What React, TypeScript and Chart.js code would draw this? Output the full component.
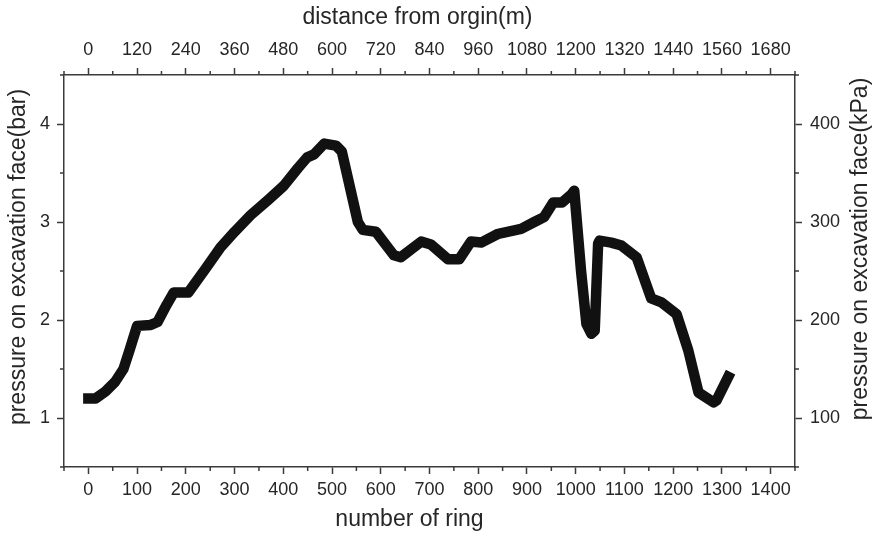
import React, { useEffect, useRef } from "react";
import { Chart, registerables } from "chart.js";

Chart.register(...registerables);

// ---- data ----
const rings = [
  0, 15, 35, 55, 72, 85, 100, 128, 142, 160, 175, 205, 240, 271, 300, 333, 370, 401, 430, 449,
  463, 484, 508, 520, 553, 563, 590, 627, 641, 683, 703, 738, 761, 785, 806, 841, 888, 915, 935, 954,
  972, 991, 997, 1011, 1022, 1032, 1039, 1046, 1049, 1073, 1094, 1125, 1155, 1176, 1207, 1231, 1252, 1283, 1289, 1313,
];
const pressureBar = [
  1.2, 1.2, 1.27, 1.37, 1.5, 1.7, 1.94, 1.95, 1.98, 2.15, 2.28, 2.28, 2.52, 2.74, 2.9, 3.07, 3.23, 3.37, 3.55, 3.66,
  3.69, 3.8, 3.78, 3.72, 3.0, 2.92, 2.9, 2.66, 2.64, 2.8, 2.77, 2.62, 2.62, 2.8, 2.79, 2.88, 2.93, 3.0, 3.05, 3.2,
  3.2, 3.28, 3.32, 2.5, 1.96, 1.86, 1.89, 2.78, 2.81, 2.79, 2.76, 2.64, 2.22, 2.18, 2.06, 1.69, 1.26, 1.16, 1.18, 1.42,
];

const ringRange = [-50, 1450];
const distanceRange = [-60, 1740];
const barRange = [0.5, 4.5];
const kpaRange = [50, 450];

const ringTicks = [0, 100, 200, 300, 400, 500, 600, 700, 800, 900, 1000, 1100, 1200, 1300, 1400];
const distanceTicks = [0, 120, 240, 360, 480, 600, 720, 840, 960, 1080, 1200, 1320, 1440, 1560, 1680];
const barTicks = [1, 2, 3, 4];
const kpaTicks = [100, 200, 300, 400];

const ringMinor = [-50, 50, 150, 250, 350, 450, 550, 650, 750, 850, 950, 1050, 1150, 1250, 1350, 1450];
const distanceMinor = [-60, 60, 180, 300, 420, 540, 660, 780, 900, 1020, 1140, 1260, 1380, 1500, 1620, 1740];
const barMinor = [0.5, 1.5, 2.5, 3.5, 4.5];
const kpaMinor = [50, 150, 250, 350, 450];

const titleBottom = "number of ring";
const titleTop = "distance from orgin(m)";
const titleLeft = "pressure on excavation face(bar)";
const titleRight = "pressure on excavation face(kPa)";

const AXIS = "#3a3a3a";
const TEXT = "#262626";
const FONT_FAMILY = "'Liberation Sans', Arial, sans-serif";

const minorAndTitles = {
  id: "minorAndTitles",
  afterDraw(chart: any) {
    const ctx = chart.ctx as CanvasRenderingContext2D;
    ctx.save();
    ctx.strokeStyle = AXIS;
    ctx.lineWidth = 1.5;
    const defs: [string, number[]][] = [
      ["x", ringMinor],
      ["x2", distanceMinor],
      ["y", barMinor],
      ["y2", kpaMinor],
    ];
    const len = 4;
    for (const [id, vals] of defs) {
      const s = chart.scales[id];
      if (!s) continue;
      ctx.beginPath();
      for (const v of vals) {
        const p = s.getPixelForValue(v);
        if (s.position === "bottom") {
          ctx.moveTo(p, s.top);
          ctx.lineTo(p, s.top + len);
        } else if (s.position === "top") {
          ctx.moveTo(p, s.bottom);
          ctx.lineTo(p, s.bottom - len);
        } else if (s.position === "left") {
          ctx.moveTo(s.right, p);
          ctx.lineTo(s.right - len, p);
        } else {
          ctx.moveTo(s.left, p);
          ctx.lineTo(s.left + len, p);
        }
      }
      ctx.stroke();
    }

    // axis titles
    const ca = chart.chartArea;
    ctx.fillStyle = TEXT;
    ctx.font = `23px ${FONT_FAMILY}`;
    ctx.textAlign = "center";
    ctx.textBaseline = "alphabetic";
    const midX = (ca.left + ca.right) / 2;
    const midY = (ca.top + ca.bottom) / 2;
    ctx.fillText(titleTop, midX - 12, 24);
    ctx.fillText(titleBottom, midX - 20, 526);

    ctx.save();
    ctx.translate(25, midY - 14);
    ctx.rotate(-Math.PI / 2);
    ctx.fillText(titleLeft, 0, 0);
    ctx.restore();

    ctx.save();
    ctx.translate(867, midY - 22);
    ctx.rotate(-Math.PI / 2);
    ctx.fillText(titleRight, 0, 0);
    ctx.restore();

    ctx.restore();
  },
};

const setTicks = (values: number[]) => (s: any) => {
  s.ticks = values.map((v) => ({ value: v }));
};

export default function App() {
  const ref = useRef<HTMLCanvasElement | null>(null);

  useEffect(() => {
    if (!ref.current) return;
    const tickFont = { family: FONT_FAMILY, size: 18 };
    const grid = {
      display: true,
      drawOnChartArea: false,
      drawTicks: true,
      tickLength: 7,
      tickColor: AXIS,
      tickWidth: 1.5,
    };
    const border = { display: true, color: AXIS, width: 1.5 };
    const ticksBase = {
      autoSkip: false,
      maxRotation: 0,
      color: TEXT,
      font: tickFont,
      callback: (v: any) => String(v),
    };

    const chart = new Chart(ref.current, {
      type: "line",
      data: {
        datasets: [
          {
            data: rings.map((r, i) => ({ x: r, y: pressureBar[i] })),
            borderColor: "#111111",
            borderWidth: 10.5,
            borderJoinStyle: "round",
            borderCapStyle: "square",
            pointRadius: 0,
            fill: false,
            tension: 0,
            xAxisID: "x",
            yAxisID: "y",
          },
        ],
      },
      options: {
        responsive: false,
        animation: false,
        layout: { padding: 0 },
        plugins: {
          legend: { display: false },
          tooltip: { enabled: false },
        },
        scales: {
          x: {
            type: "linear",
            position: "bottom",
            min: ringRange[0],
            max: ringRange[1],
            grid,
            border,
            ticks: { ...ticksBase, padding: 5 },
            afterBuildTicks: setTicks(ringTicks),
            afterFit: (s: any) => {
              s.height = 68;
            },
          },
          x2: {
            type: "linear",
            position: "top",
            min: distanceRange[0],
            max: distanceRange[1],
            grid,
            border,
            ticks: { ...ticksBase, padding: 7 },
            afterBuildTicks: setTicks(distanceTicks),
            afterFit: (s: any) => {
              s.height = 75;
            },
          },
          y: {
            type: "linear",
            position: "left",
            min: barRange[0],
            max: barRange[1],
            grid,
            border,
            ticks: { ...ticksBase, padding: 7 },
            afterBuildTicks: setTicks(barTicks),
            afterFit: (s: any) => {
              s.width = 64;
            },
          },
          y2: {
            type: "linear",
            position: "right",
            min: kpaRange[0],
            max: kpaRange[1],
            grid,
            border,
            ticks: { ...ticksBase, padding: 8 },
            afterBuildTicks: setTicks(kpaTicks),
            afterFit: (s: any) => {
              s.width = 77;
            },
          },
        },
      },
      plugins: [minorAndTitles],
    } as any);

    return () => chart.destroy();
  }, []);

  return (
    <div style={{ position: "fixed", left: 0, top: 0, width: 872, height: 535, background: "#fff" }}>
      <canvas ref={ref} width={872} height={535} style={{ display: "block" }} />
    </div>
  );
}
